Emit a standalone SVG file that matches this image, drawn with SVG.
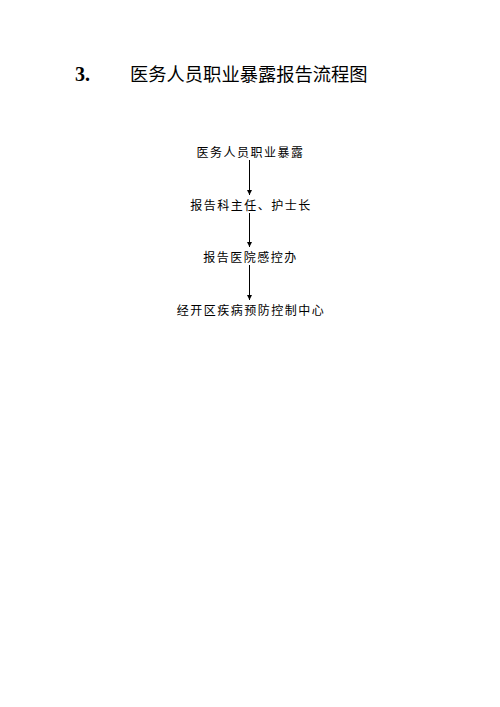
<svg xmlns="http://www.w3.org/2000/svg" width="500" height="707" viewBox="0 0 500 707">
<style>
.t{font-family:"Liberation Serif","Noto Sans CJK SC",serif;font-size:20px;fill:#000}
.n{font-family:"Noto Sans CJK SC",sans-serif;font-size:12px;letter-spacing:1.5px;fill:#000;text-anchor:middle}
.c{stroke:#000;stroke-width:1;fill:none;marker-end:url(#a)}
</style>
<defs>
<marker id="a" markerWidth="6" markerHeight="6" refX="5" refY="3" orient="auto" markerUnits="userSpaceOnUse">
<path d="M0,0.5 L5,3 L0,5.5 Z" fill="#000"/>
</marker>
</defs>
<rect width="500" height="707" fill="#fff"/>
<g id="title">
<text class="t" x="75" y="81" font-weight="bold">3.</text>
<text class="t" x="130" y="81" style="font-size:18.3px">医务人员职业暴露报告流程图</text>
</g>
<g id="n1"><text class="n" x="250.5" y="157">医务人员职业暴露</text></g>
<g id="n2"><text class="n" x="251" y="210">报告科主任、护士长</text></g>
<g id="n3"><text class="n" x="250.5" y="262">报告医院感控办</text></g>
<g id="n4"><text class="n" x="251" y="315">经开区疾病预防控制中心</text></g>
<g id="connectors">
<line class="c" x1="249.5" y1="160" x2="249.5" y2="195"/>
<line class="c" x1="249.5" y1="213" x2="249.5" y2="247"/>
<line class="c" x1="249.5" y1="265" x2="249.5" y2="300"/>
</g>
</svg>
